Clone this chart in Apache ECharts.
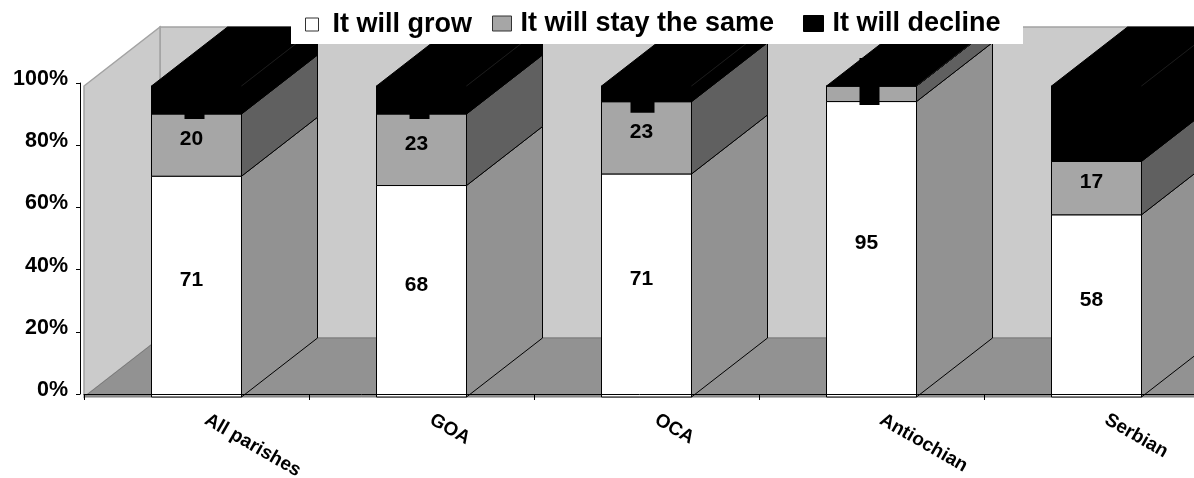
<!DOCTYPE html>
<html>
<head>
<meta charset="utf-8">
<style>html,body{margin:0;padding:0;background:#fff}#c{width:1194px;height:478px}</style>
<script src="https://cdn.jsdelivr.net/npm/echarts@6/dist/echarts.min.js"></script>
</head>
<body>
<div id="c"></div>
<script>
const categories = ['All parishes', 'GOA', 'OCA', 'Antiochian', 'Serbian'];
const grow = [71, 68, 71, 95, 58];
const same = [20, 23, 23, 5, 17];
const decline = [9, 9, 5, 0, 24];
const seriesNames = ['It will grow', 'It will stay the same', 'It will decline'];
const yTicks = [0, 20, 40, 60, 80, 100];

const allValues = [grow, same, decline];
const FONT = '"Liberation Sans", Arial, sans-serif';
const DX = 76, DY = -59, SHIFT = 3, HALF = 45;
const frontColors = ['#ffffff', '#a6a6a6', '#000000'];
const sideColors = ['#929292', '#606060', '#000000'];
const tabWidths = [20, 20, 24, 20, 20];

function pct(seriesIdx, i) {
  let total = 0, below = 0;
  allValues.forEach((a, k) => { total += a[i]; if (k < seriesIdx) below += a[i]; });
  return [below / total * 100, (below + allValues[seriesIdx][i]) / total * 100];
}

function barRender(seriesIdx) {
  return function (params, api) {
    const i = api.value(0);
    const [lo, hi] = pct(seriesIdx, i);
    const c = api.coord([i, 0])[0];
    const yLo = api.coord([i, lo])[1] + SHIFT;
    const yHi = api.coord([i, hi])[1] + SHIFT;
    const xL = c - HALF, xR = c + HALF;
    const children = [];
    const stroke = '#000';
    children.push({
      type: 'polygon',
      shape: { points: [[xR, yLo], [xR + DX, yLo + DY], [xR + DX, yHi + DY], [xR, yHi]] },
      style: { fill: sideColors[seriesIdx], stroke: stroke, lineWidth: 1 }
    });
    children.push({
      type: 'rect',
      shape: { x: xL, y: yHi, width: xR - xL, height: yLo - yHi },
      style: { fill: frontColors[seriesIdx], stroke: stroke, lineWidth: 1 }
    });
    if (seriesIdx === 2) {
      children.push({
        type: 'polygon',
        shape: { points: [[xL, yHi], [xL + DX, yHi + DY], [xR + DX, yHi + DY], [xR, yHi]] },
        style: { fill: '#000', stroke: '#000', lineWidth: 1 }
      });
      children.push({
        type: 'line',
        shape: { x1: xR, y1: yHi, x2: xR + DX, y2: yHi + DY },
        style: { stroke: '#1c1c1c', lineWidth: 1 }
      });
      const mid = (yLo + yHi) / 2;
      const w = tabWidths[i];
      children.push({
        type: 'rect',
        shape: { x: c - 12 - (w - 20), y: mid - 28, width: w, height: 47 },
        style: { fill: '#000' }
      });
    } else if (!(seriesIdx === 1 && api.value(1) < 6)) {
      children.push({
        type: 'text',
        style: {
          text: String(api.value(1)),
          x: c - 5, y: (yLo + yHi) / 2 - 6,
          align: 'center', verticalAlign: 'middle',
          font: 'bold 21px ' + FONT, fill: '#000'
        }
      });
    }
    return { type: 'group', children };
  };
}

function wallRender(params, api) {
  const band = api.size([1, 0])[0];
  const x0 = api.coord([0, 0])[0] - band / 2;
  const x1 = x0 + band * categories.length;
  const yB = api.coord([0, 0])[1] + SHIFT;
  const yT = api.coord([0, 100])[1] + SHIFT;
  const edge = '#a3a3a3';
  return {
    type: 'group',
    children: [
      { type: 'polygon', shape: { points: [[x0 + DX, yT + DY], [x1, yT + DY], [x1, yB + DY], [x0 + DX, yB + DY]] },
        style: { fill: '#cbcbcb', stroke: edge, lineWidth: 1.5 } },
      { type: 'polygon', shape: { points: [[x0, yT], [x0 + DX, yT + DY], [x0 + DX, yB + DY], [x0, yB]] },
        style: { fill: '#cbcbcb', stroke: edge, lineWidth: 1.5 } },
      { type: 'polygon', shape: { points: [[x0, yB], [x0 + DX, yB + DY], [x1, yB + DY], [x1, yB]] },
        style: { fill: '#929292', stroke: '#7a7a7a', lineWidth: 1 } }
    ]
  };
}

const makeBar = (idx) => ({
  type: 'custom',
  name: seriesNames[idx],
  coordinateSystem: 'cartesian2d',
  clip: false,
  silent: true,
  z: 3 + idx,
  itemStyle: { color: frontColors[idx] },
  encode: { x: 0, y: 1 },
  data: allValues[idx].map((v, i) => [i, v]),
  renderItem: barRender(idx)
});

const legendOf = (idx, left, w, h, top, gap) => ({
  left, top, padding: 0, z: 60,
  itemWidth: w, itemHeight: h,
  selectedMode: false,
  data: [{ name: seriesNames[idx], icon: 'rect',
    itemStyle: { color: frontColors[idx], borderColor: idx === 2 ? '#000' : '#333', borderWidth: 1 } }],
  textStyle: { fontFamily: FONT, fontWeight: 'bold', fontSize: 27, color: '#000', padding: [0, 0, 0, gap] }
});

const chart = echarts.init(document.getElementById('c'), null, { renderer: 'canvas' });
chart.setOption({
  animation: false,
  backgroundColor: '#fff',
  grid: { left: 84, top: 83, width: 1125, height: 311, containLabel: false, outerBoundsMode: 'none' },
  xAxis: {
    type: 'category', data: categories, z: 20,
    axisLine: { lineStyle: { color: '#000', width: 1 } },
    axisTick: { show: true, length: 6, lineStyle: { color: '#000' } },
    axisLabel: { interval: 0, rotate: -30, margin: 19, padding: [0, 0, 0, 11], color: '#000', fontFamily: FONT, fontWeight: 'bold', fontSize: 19 }
  },
  yAxis: {
    type: 'value', min: yTicks[0], max: yTicks[yTicks.length - 1], interval: yTicks[1] - yTicks[0], offset: 4, z: 20,
    axisLine: { show: true, lineStyle: { color: '#000', width: 1 } },
    axisTick: { show: true, length: 4, lineStyle: { color: '#000' } },
    splitLine: { show: false },
    axisLabel: { formatter: '{value}%', margin: 12, verticalAlign: 'bottom', lineHeight: 8, color: '#000', fontFamily: FONT, fontWeight: 'bold', fontSize: 21.5 }
  },
  legend: [legendOf(0, 305, 13, 13, 11, 9), legendOf(1, 492, 19, 15, 10, 4), legendOf(2, 803, 20, 16, 10, 4)],
  graphic: [{ type: 'rect', z: 50, silent: true, shape: { x: 291, y: 0, width: 732, height: 44 }, style: { fill: '#fff' } }],
  series: [
    { type: 'custom', name: 'walls', coordinateSystem: 'cartesian2d', clip: false, silent: true, z: 1,
      encode: { x: 0, y: 1 }, data: [[0, 0]], renderItem: wallRender },
    makeBar(0), makeBar(1), makeBar(2)
  ]
});
</script>
</body>
</html>
